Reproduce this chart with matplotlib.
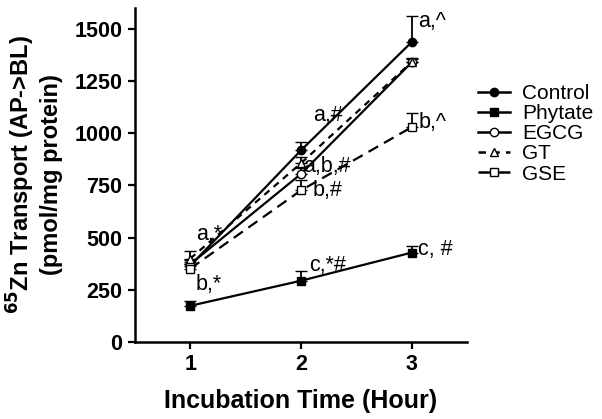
import matplotlib
matplotlib.use("Agg")
import matplotlib.pyplot as plt
from matplotlib.lines import Line2D

plt.rcParams['font.family'] = ['Liberation Sans', 'DejaVu Sans']

hours = [1, 2, 3]
control = [365, 918, 1437]
control_err = [20, 40, 125]
phytate = [173, 293, 428]
phytate_err = [24, 48, 33]
egcg = [372, 805, 1340]
egcg_err = [20, 30, 20]
gt = [399, 856, 1341]
gt_err = [38, 30, 15]
gse = [351, 726, 1029]
gse_err = [20, 50, 67]

annotations = [
    (3.06, 1534, "a,^"),
    (2.11, 1087, "a,#"),
    (2.02, 841, "a,b,#"),
    (2.1, 726, "b,#"),
    (3.06, 1053, "b,^"),
    (1.05, 514, "a,*"),
    (1.05, 274, "b,*"),
    (2.07, 365, "c,*#"),
    (3.06, 442, "c, #"),
]

fig = plt.figure(figsize=(6.02, 4.19), dpi=100)
ax = fig.add_axes([0.224, 0.184, 0.552, 0.797])

series = [
    ("Control", control, control_err, dict(marker='o', mfc='black', ls='-')),
    ("Phytate", phytate, phytate_err, dict(marker='s', mfc='black', ls='-')),
    ("EGCG", egcg, egcg_err, dict(marker='o', mfc='white', ls='-')),
    ("GT", gt, gt_err, dict(marker='^', mfc='white', ls=(0, (3, 2.5)))),
    ("GSE", gse, gse_err, dict(marker='s', mfc='white', ls=(0, (5, 3)))),
]

proxies = []
for name, vals, errs, st in series:
    ax.errorbar(hours, vals, yerr=[[0] * len(errs), errs], color='black',
                ecolor='black', elinewidth=1.3, capsize=4, capthick=1.3,
                lw=1.6, ms=6, mec='black', mew=1.0,
                marker=st['marker'], mfc=st['mfc'], ls=st['ls'])
    proxies.append(Line2D([], [], color='black', lw=1.8, ls=st['ls'],
                          marker=st['marker'], mfc=st['mfc'], mec='black',
                          ms=6, mew=1.0, label=name))

for x, y, t in annotations:
    ax.text(x, y, t, fontsize=15.5, va='center', ha='left')

ax.set_xlim(0.5, 3.5)
ax.set_ylim(0, 1600)
ax.set_xticks([1, 2, 3])
ax.set_yticks([0, 250, 500, 750, 1000, 1250, 1500])
for lab in ax.get_xticklabels() + ax.get_yticklabels():
    lab.set_fontweight('bold')
    lab.set_fontsize(15.5)
ax.tick_params(direction='out', length=5, width=1.6, pad=4)
for s in ['top', 'right']:
    ax.spines[s].set_visible(False)
for s in ['left', 'bottom']:
    ax.spines[s].set_linewidth(1.8)

ax.set_xlabel("Incubation Time (Hour)", fontsize=18, fontweight='bold', labelpad=10)
ax.set_ylabel("$\\mathbf{^{65}}$Zn Transport (AP->BL)\n(pmol/mg protein)",
              fontsize=17, fontweight='bold', labelpad=8)

leg = fig.legend(handles=proxies, loc='upper left',
                 bbox_to_anchor=(470 / 602, 1 - 76 / 419),
                 frameon=False, fontsize=15, handlelength=1.5,
                 handletextpad=0.6, labelspacing=0.05, borderaxespad=0)

fig.savefig("out.png", dpi=100)
